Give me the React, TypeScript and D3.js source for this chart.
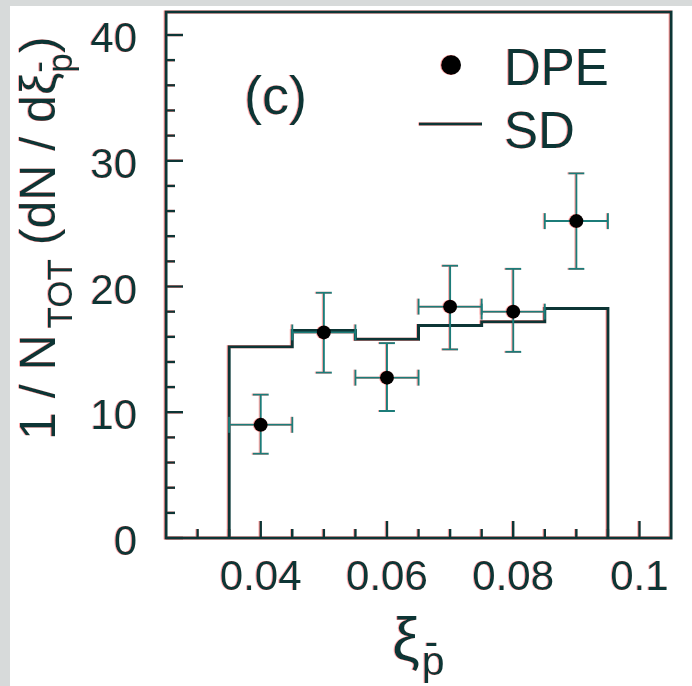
import React from "react";
import * as d3 from "d3";

// ---- data ----
const xCenters = [0.04, 0.05, 0.06, 0.07, 0.08, 0.09];
const dpeValues = [9.0, 16.35, 12.75, 18.4, 18.0, 25.2];
const dpeErrLow = [6.7, 13.15, 10.1, 15.0, 14.8, 21.4];
const dpeErrHigh = [11.4, 19.5, 15.5, 21.65, 21.4, 29.0];
const xHalfWidth = 0.005;

const sdBinEdges = [0.035, 0.045, 0.055, 0.065, 0.075, 0.085, 0.095];
const sdValues = [15.2, 16.5, 15.8, 16.9, 17.2, 18.25];

const xTickLabels = ["0.04", "0.06", "0.08", "0.1"];
const xMajorTicks = [0.04, 0.06, 0.08, 0.1];
const yTickLabels = ["0", "10", "20", "30", "40"];
const yMajorTicks = [0, 10, 20, 30, 40];

const W = 692;
const H = 686;
const FONT = "'Liberation Sans', Arial, Helvetica, sans-serif";
const DARK = "#0b3434";
const TEAL = "#1d7c79";

export default function App() {
  const x = d3.scaleLinear().domain([0.025, 0.105]).range([166, 671]);
  const y = d3.scaleLinear().domain([0, 41.83]).range([538, 12]);

  const xMinor = d3.range(0.03, 0.1001, 0.005);
  const yMinor = d3.range(0, 40.01, 2);

  // histogram step path
  const stepPts: [number, number][] = [];
  stepPts.push([sdBinEdges[0], 0]);
  sdValues.forEach((v, i) => {
    stepPts.push([sdBinEdges[i], v]);
    stepPts.push([sdBinEdges[i + 1], v]);
  });
  stepPts.push([sdBinEdges[sdBinEdges.length - 1], 0]);
  const line = d3
    .line<[number, number]>()
    .x((d) => x(d[0]))
    .y((d) => y(d[1]));

  const cap = 8;

  return (
    <svg
      width={W}
      height={H}
      style={{ position: "absolute", left: 0, top: 0 }}
      fontFamily={FONT}
    >
      <defs>
        <filter id="fringe" x="-5%" y="-5%" width="110%" height="110%">
          <feOffset in="SourceAlpha" dx="-1" dy="0" result="off" />
          <feFlood floodColor="#ff6f6f" floodOpacity="0.55" />
          <feComposite in2="off" operator="in" result="red" />
          <feMerge>
            <feMergeNode in="red" />
            <feMergeNode in="SourceGraphic" />
          </feMerge>
        </filter>
      </defs>
      <rect x={0} y={0} width={W} height={H} fill="#d7dada" />
      <rect x={10} y={6} width={W - 10} height={H - 6} fill="#ffffff" />

      <g filter="url(#fringe)">
        {/* frame */}
        <rect
          x={x(0.025)}
          y={y(41.83)}
          width={x(0.105) - x(0.025)}
          height={y(0) - y(41.83)}
          fill="none"
          stroke={DARK}
          strokeWidth={3}
        />
        {/* y ticks */}
        {yMinor.map((v) => {
          const major = yMajorTicks.some((m) => Math.abs(m - v) < 1e-6);
          return (
            <line
              key={"yt" + v}
              x1={x(0.025)}
              x2={x(0.025) + (major ? 17 : 9)}
              y1={y(v)}
              y2={y(v)}
              stroke={DARK}
              strokeWidth={2.5}
            />
          );
        })}
        {/* x ticks */}
        {xMinor.map((v) => {
          const major = xMajorTicks.some((m) => Math.abs(m - v) < 1e-6);
          return (
            <line
              key={"xt" + v}
              x1={x(v)}
              x2={x(v)}
              y1={y(0)}
              y2={y(0) - (major ? 17 : 9)}
              stroke={DARK}
              strokeWidth={2.5}
            />
          );
        })}
        {/* tick labels */}
        {yMajorTicks.map((v, i) => (
          <text
            key={"yl" + v}
            x={137}
            y={y(v) + 17}
            textAnchor="end"
            fontSize={42}
            fill={DARK}
          >
            {yTickLabels[i]}
          </text>
        ))}
        {xMajorTicks.map((v, i) => (
          <text
            key={"xl" + v}
            x={x(v)}
            y={590}
            textAnchor="middle"
            fontSize={42}
            fill={DARK}
          >
            {xTickLabels[i]}
          </text>
        ))}

        {/* SD histogram */}
        <path
          d={line(stepPts) || ""}
          fill="none"
          stroke={DARK}
          strokeWidth={3}
        />

        {/* DPE points with error bars */}
        {xCenters.map((c, i) => {
          const cx = x(c);
          const cy = y(dpeValues[i]);
          const x0 = x(c - xHalfWidth);
          const x1 = x(c + xHalfWidth);
          const yl = y(dpeErrLow[i]);
          const yh = y(dpeErrHigh[i]);
          return (
            <g key={"p" + i} stroke={TEAL} strokeWidth={2}>
              <line x1={cx} x2={cx} y1={yl} y2={yh} />
              <line x1={cx - cap} x2={cx + cap} y1={yl} y2={yl} />
              <line x1={cx - cap} x2={cx + cap} y1={yh} y2={yh} />
              <line x1={x0} x2={x1} y1={cy} y2={cy} />
              <line x1={x0} x2={x0} y1={cy - cap} y2={cy + cap} />
              <line x1={x1} x2={x1} y1={cy - cap} y2={cy + cap} />
              <circle cx={cx} cy={cy} r={7} fill="#000" stroke="none" />
            </g>
          );
        })}

        {/* legend */}
        <circle cx={451} cy={65} r={10} fill="#000" />
        <text x={504} y={85} fontSize={51} fill={DARK}>
          DPE
        </text>
        <line x1={419} x2={482} y1={124} y2={124} stroke={DARK} strokeWidth={3} />
        <text x={504} y={148} fontSize={51} fill={DARK}>
          SD
        </text>
        <text x={244} y={114} fontSize={54} fill={DARK}>
          (c)
        </text>

        {/* axis titles */}
        <text
          transform="translate(55,440) rotate(-90)"
          fontSize={50}
          fill={DARK}
        >
          <tspan>1 / N</tspan>
          <tspan fontSize={35} dx={6} dy={17}>
            TOT
          </tspan>
          <tspan dy={-17}> (dN / d</tspan>
          <tspan>ξ</tspan>
          <tspan fontSize={35} dy={17}>
            p
          </tspan>
          <tspan fontSize={35} dx={-19.5} dy={-22}>
            -
          </tspan>
          <tspan dx={8} dy={5}>
            )
          </tspan>
        </text>

        <text x={392} y={660} fontSize={62} fill={DARK}>
          <tspan>ξ</tspan>
          <tspan fontSize={41} dx={2} dy={15}>
            p
          </tspan>
          <tspan fontSize={41} dx={-20} dy={-20}>
            -
          </tspan>
        </text>
      </g>
    </svg>
  );
}
